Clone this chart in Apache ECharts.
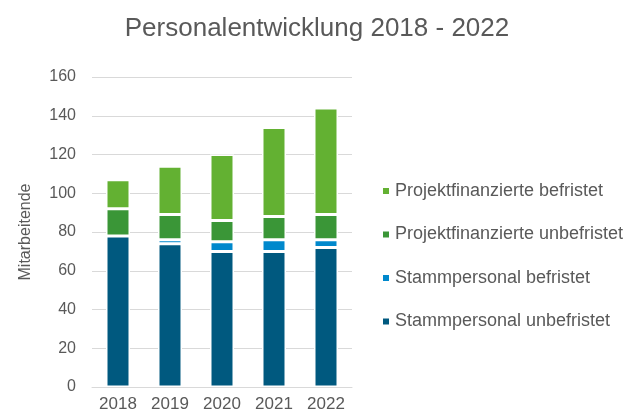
<!DOCTYPE html>
<html>
<head>
<meta charset="utf-8">
<script src="https://cdn.jsdelivr.net/npm/echarts@6/dist/echarts.min.js"></script>
<style>
  html, body { margin: 0; padding: 0; background: #fff; }
  #chart { width: 634px; height: 418px; }
</style>
</head>
<body>
<div id="chart"></div>
<script>
  // Jahre und Werte
  var years = ['2018', '2019', '2020', '2021', '2022'];
  var stammUnbefristet = [78, 74, 70, 70, 72];
  var stammBefristet = [0, 2, 5, 6, 4];
  var projUnbefristet = [14, 13, 11, 12, 13];
  var projBefristet = [15, 25, 34, 46, 55];

  var textColor = '#595959';
  var fontName = 'Liberation Sans, Arial, sans-serif';

  function bar(name, data, color) {
    return {
      name: name,
      type: 'bar',
      stack: 'total',
      barWidth: 24,
      itemStyle: { color: color, borderColor: '#fff', borderWidth: 1.5 },
      data: data
    };
  }

  var chart = echarts.init(document.getElementById('chart'));
  chart.setOption({
    animation: false,
    textStyle: { fontFamily: fontName, color: textColor },
    title: {
      text: 'Personalentwicklung 2018 - 2022',
      left: 'center',
      top: 11,
      textStyle: { fontSize: 26, fontWeight: 'normal', color: textColor, fontFamily: fontName }
    },
    legend: {
      orient: 'vertical',
      left: 376,
      top: 177,
      itemWidth: 8,
      itemHeight: 8,
      itemGap: 25.5,
      icon: 'rect',
      textStyle: { fontSize: 18, color: textColor, fontFamily: fontName },
      data: ['Projektfinanzierte befristet', 'Projektfinanzierte unbefristet',
             'Stammpersonal befristet', 'Stammpersonal unbefristet']
    },
    grid: { left: 92, right: 282, top: 77, bottom: 31 },
    xAxis: {
      type: 'category',
      data: years,
      axisLine: { lineStyle: { color: '#d9d9d9' } },
      axisTick: { length: 6, lineStyle: { color: '#d9d9d9' } },
      axisLabel: { fontSize: 17, color: textColor, margin: 9 }
    },
    yAxis: {
      type: 'value',
      min: 0,
      max: 160,
      interval: 20,
      name: 'Mitarbeitende',
      nameLocation: 'middle',
      nameGap: 58,
      nameTextStyle: { fontSize: 16, color: textColor },
      axisLine: { show: false },
      axisTick: { show: false },
      axisLabel: { fontSize: 16, color: textColor, margin: 16 },
      splitLine: { lineStyle: { color: '#d9d9d9' } }
    },
    series: [
      bar('Stammpersonal unbefristet', stammUnbefristet, '#00597f'),
      bar('Stammpersonal befristet', stammBefristet, '#0088cc'),
      bar('Projektfinanzierte unbefristet', projUnbefristet, '#3a9637'),
      bar('Projektfinanzierte befristet', projBefristet, '#63b132')
    ]
  });
</script>
</body>
</html>
